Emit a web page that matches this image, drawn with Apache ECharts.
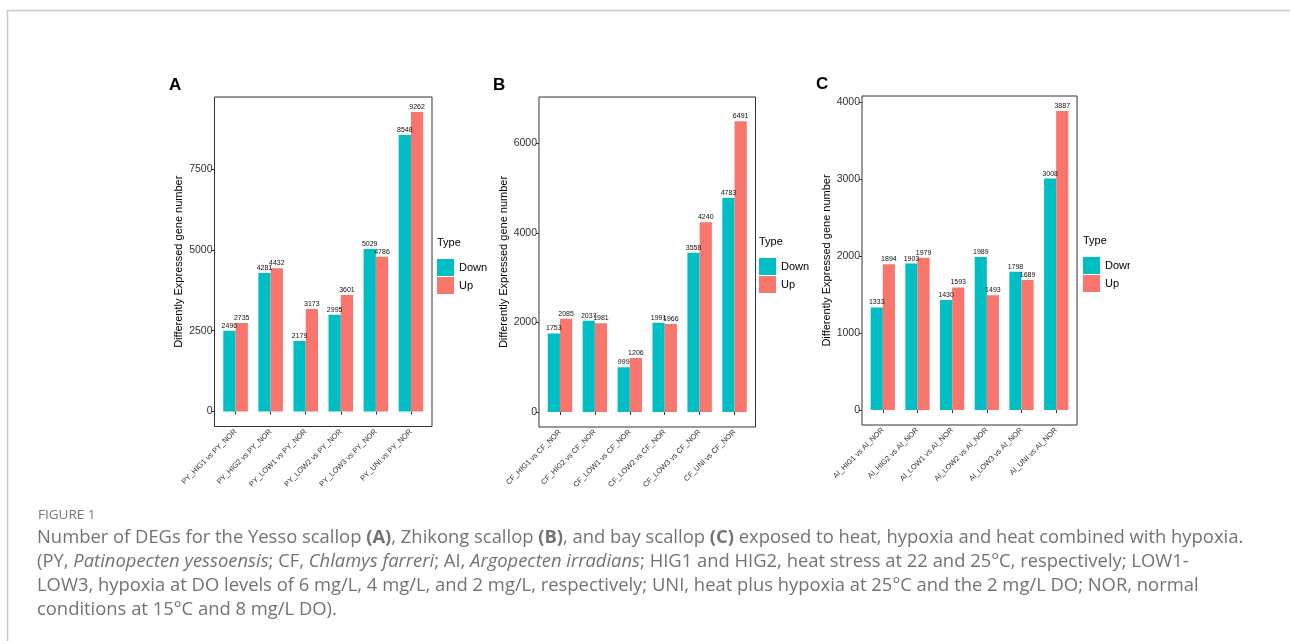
<!DOCTYPE html>
<html>
<head>
<meta charset="utf-8">
<script src="https://cdn.jsdelivr.net/npm/echarts@6/dist/echarts.min.js"></script>
<style>
  html, body { margin: 0; padding: 0; background: #fff; }
  #chart { width: 1290px; height: 641px; }
</style>
</head>
<body>
<div id="chart"></div>
<script>
// Chart data
const categoriesA = ['PY_HIG1 vs PY_NOR', 'PY_HIG2 vs PY_NOR', 'PY_LOW1 vs PY_NOR', 'PY_LOW2 vs PY_NOR', 'PY_LOW3 vs PY_NOR', 'PY_UNI vs PY_NOR'];
const downA = [2496, 4281, 2179, 2995, 5029, 8548];
const upA = [2735, 4432, 3173, 3601, 4786, 9262];
const ticksA = [0, 2500, 5000, 7500];

const categoriesB = ['CF_HIG1 vs CF_NOR', 'CF_HIG2 vs CF_NOR', 'CF_LOW1 vs CF_NOR', 'CF_LOW2 vs CF_NOR', 'CF_LOW3 vs CF_NOR', 'CF_UNI vs CF_NOR'];
const downB = [1753, 2037, 999, 1991, 3558, 4783];
const upB = [2085, 1981, 1206, 1966, 4240, 6491];
const ticksB = [0, 2000, 4000, 6000];

const categoriesC = ['AI_HIG1 vs AI_NOR', 'AI_HIG2 vs AI_NOR', 'AI_LOW1 vs AI_NOR', 'AI_LOW2 vs AI_NOR', 'AI_LOW3 vs AI_NOR', 'AI_UNI vs AI_NOR'];
const downC = [1333, 1903, 1430, 1989, 1798, 3008];
const upC = [1894, 1979, 1593, 1493, 1689, 3887];
const ticksC = [0, 1000, 2000, 3000, 4000];

const COLOR_DOWN = '#00BFC4';
const COLOR_UP = '#F8766D';
const FONT = '"Liberation Sans", Arial, sans-serif';

// panel boxes (ggplot panel border) and y ranges incl. expansion
const panels = [
  { letter: 'A', cats: categoriesA, down: downA, up: upA, ticks: ticksA, min: -463, max: 9725,
    box: { l: 214.5, r: 432, t: 97, b: 426.5 }, letterPos: [169, 77], legend: [437, 259] },
  { letter: 'B', cats: categoriesB, down: downB, up: upB, ticks: ticksB, min: -335, max: 7035,
    box: { l: 539, r: 755.5, t: 97, b: 427 }, letterPos: [493, 77], legend: [759, 258] },
  { letter: 'C', cats: categoriesC, down: downC, up: upC, ticks: ticksC, min: -194, max: 4081,
    box: { l: 862, r: 1077, t: 96, b: 425 }, letterPos: [816, 76], legend: [1083, 257] }
];

const chart = echarts.init(document.getElementById('chart'), null, { renderer: 'canvas' });

const grids = [], xAxes = [], yAxes = [], series = [], legends = [], graphics = [];

panels.forEach((p, i) => {
  const u = (p.box.r - p.box.l) / 6.2;   // one discrete unit
  const pad = 0.1 * u;
  grids.push({
    left: p.box.l + pad,
    top: p.box.t,
    width: (p.box.r - p.box.l) - 2 * pad,
    height: p.box.b - p.box.t,
    containLabel: false
  });
  xAxes.push({
    type: 'category',
    gridIndex: i,
    data: p.cats,
    axisLine: { show: false },
    axisTick: { show: true, alignWithLabel: true, length: 3, lineStyle: { color: '#333', width: 1 } },
    axisLabel: { interval: 0, rotate: 45, fontSize: 7.5, fontFamily: FONT, color: '#333', margin: 4 },
    splitLine: { show: false }
  });
  yAxes.push({
    type: 'value',
    gridIndex: i,
    min: p.min,
    max: p.max,
    offset: pad,
    name: 'Differently Expressed gene number',
    nameLocation: 'middle',
    nameRotate: 90,
    nameGap: 30,
    nameTextStyle: { fontSize: 11, fontFamily: FONT, color: '#000' },
    axisLine: { show: false },
    axisTick: { show: true, length: 3, customValues: p.ticks, lineStyle: { color: '#333' } },
    axisLabel: { fontSize: 10.5, fontFamily: FONT, color: '#333', margin: 2, customValues: p.ticks,
      formatter: v => String(v) },
    splitLine: { show: false }
  });
  const labelCfg = { show: true, position: 'top', distance: 1.5, fontSize: 7, fontFamily: FONT, color: '#111' };
  series.push({
    name: 'Down', type: 'bar', xAxisIndex: i, yAxisIndex: i,
    data: p.down, itemStyle: { color: COLOR_DOWN },
    barCategoryGap: '30%', barGap: '0%', label: labelCfg
  });
  series.push({
    name: 'Up', type: 'bar', xAxisIndex: i, yAxisIndex: i,
    data: p.up, itemStyle: { color: COLOR_UP },
    barCategoryGap: '30%', barGap: '0%', label: labelCfg
  });
  legends.push({
    data: ['Down', 'Up'],
    orient: 'vertical',
    left: p.legend[0],
    top: p.legend[1],
    padding: 0,
    icon: 'rect',
    itemWidth: 17,
    itemHeight: 17,
    itemGap: 1,
    selectedMode: false,
    textStyle: { fontSize: 11, fontFamily: FONT, color: '#000' }
  });
  // panel border
  graphics.push({
    type: 'rect', z: 10,
    shape: { x: p.box.l, y: p.box.t, width: p.box.r - p.box.l, height: p.box.b - p.box.t },
    style: { fill: 'none', stroke: '#333', lineWidth: 1 }
  });
  // panel letter
  graphics.push({
    type: 'text', left: p.letterPos[0], top: p.letterPos[1],
    style: { text: p.letter, font: 'bold 17px ' + FONT, fill: '#000' }
  });
  // legend title
  graphics.push({
    type: 'text', left: p.legend[0], top: p.legend[1] - 22,
    style: { text: 'Type', font: '11px ' + FONT, fill: '#000' }
  });
});

// clip the right edge of the last legend like the source image
graphics.push({
  type: 'rect', z: 100,
  shape: { x: 1130, y: 255, width: 20, height: 20 },
  style: { fill: '#fff' }
});

// page frame
graphics.push({
  type: 'polyline', z: 5,
  shape: { points: [[7.5, 641], [7.5, 10.5], [1290, 10.5]] },
  style: { stroke: '#c8c8c8', lineWidth: 1.5, fill: 'none' }
});

// caption
const CAP_FONT = '"Open Sans", "Noto Sans", sans-serif';
const CAP_SIZE = 18.4;
const capColor = '#737373';
graphics.push({
  type: 'text', left: 38, top: 508,
  style: { text: 'FIGURE 1', font: '500 13.5px ' + CAP_FONT, fill: '#777' }
});
const capLines = [
  'Number of DEGs for the Yesso scallop {b|(A)}, Zhikong scallop {b|(B)}, and bay scallop {b|(C)} exposed to heat, hypoxia and heat combined with hypoxia.',
  '(PY, {i|Patinopecten yessoensis}; CF, {i|Chlamys farreri}; AI, {i|Argopecten irradians}; HIG1 and HIG2, heat stress at 22 and 25°C, respectively; LOW1-',
  'LOW3, hypoxia at DO levels of 6 mg/L, 4 mg/L, and 2 mg/L, respectively; UNI, heat plus hypoxia at 25°C and the 2 mg/L DO; NOR, normal',
  'conditions at 15°C and 8 mg/L DO).'
];
capLines.forEach((t, k) => {
  graphics.push({
    type: 'text', left: 37, top: 529 + k * 24,
    style: {
      text: t,
      fontSize: CAP_SIZE, fontFamily: CAP_FONT, fill: capColor,
      rich: {
        b: { fontSize: CAP_SIZE, fontFamily: CAP_FONT, fontWeight: 'bold', fill: capColor, color: capColor },
        i: { fontSize: CAP_SIZE, fontFamily: CAP_FONT, fontStyle: 'italic', fill: capColor, color: capColor }
      }
    }
  });
});

chart.setOption({
  backgroundColor: '#fff',
  animation: false,
  color: [COLOR_DOWN, COLOR_UP],
  grid: grids,
  xAxis: xAxes,
  yAxis: yAxes,
  legend: legends,
  series: series,
  graphic: graphics
});
</script>
</body>
</html>
